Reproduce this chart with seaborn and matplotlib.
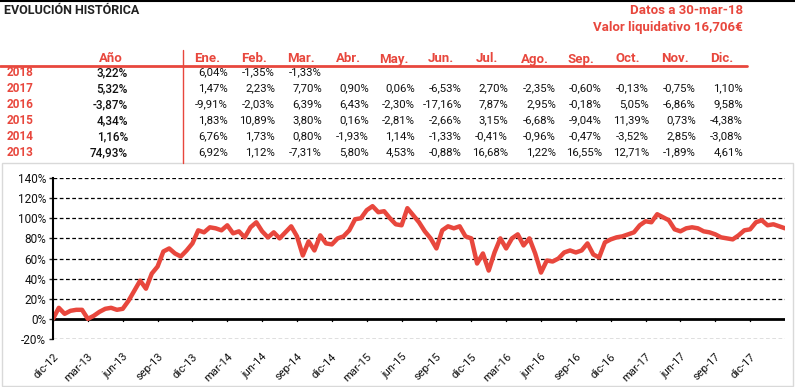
import numpy as np
import pandas as pd
import seaborn as sns
import matplotlib
matplotlib.use("Agg")
import matplotlib.pyplot as plt
from matplotlib.patches import Rectangle
from matplotlib.lines import Line2D

RED = "#E8473D"

# ---- table data ----
years = ["2018", "2017", "2016", "2015", "2014", "2013"]
year_returns = [3.22, 5.32, -3.87, 4.34, 1.16, 74.93]
month_names = ["Ene.", "Feb.", "Mar.", "Abr.", "May.", "Jun.",
               "Jul.", "Ago.", "Sep.", "Oct.", "Nov.", "Dic."]
ret_2018 = [6.04, -1.35, -1.33]
ret_2017 = [1.47, 2.23, 7.70, 0.90, 0.06, -6.53, 2.70, -2.35, -0.60, -0.13, -0.75, 1.10]
ret_2016 = [-9.91, -2.03, 6.39, 6.43, -2.30, -17.16, 7.87, 2.95, -0.18, 5.05, -6.86, 9.58]
ret_2015 = [1.83, 10.89, 3.80, 0.16, -2.81, -2.66, 3.15, -6.68, -9.04, 11.39, 0.73, -4.38]
ret_2014 = [6.76, 1.73, 0.80, -1.93, 1.14, -1.33, -0.41, -0.96, -0.47, -3.52, 2.85, -3.08]
ret_2013 = [6.92, 1.12, -7.31, 5.80, 4.53, -0.88, 16.68, 1.22, 16.55, 12.71, -1.89, 4.61]
monthly = [ret_2018, ret_2017, ret_2016, ret_2015, ret_2014, ret_2013]

# ---- chart data: cumulative return (%), twice a month from dic-12 ----
evo_2013 = [0, 11, 5, 8, 9, 9, 0, 3, 7, 10, 11, 9, 10, 18, 28, 38, 30, 45,
            52, 67, 70, 65, 62, 68, 75]
evo_2014 = [88, 86, 91, 90, 88, 93, 85, 87, 81, 91, 96, 87, 81, 86, 80, 86,
            92, 82, 63, 77, 68, 83, 75, 74]
evo_2015 = [80, 82, 88, 99, 100, 108, 112, 106, 107, 100, 94, 93, 110, 103,
            96, 87, 80, 70, 88, 92, 90, 92, 82, 80]
evo_2016 = [55, 65, 48, 66, 80, 70, 80, 84, 73, 80, 65, 46, 58, 57, 60, 66,
            68, 66, 68, 75, 64, 61, 76, 79]
evo_2017 = [81, 82, 84, 86, 93, 97, 96, 104, 101, 98, 89, 87, 90, 91, 90, 87,
            86, 84, 81, 80, 79, 83, 88, 89]
evo_2018 = [96, 98, 93, 94, 92, 90]
evolution = evo_2013 + evo_2014 + evo_2015 + evo_2016 + evo_2017 + evo_2018
months = np.arange(len(evolution)) / 2.0

x_tick_labels = ["dic-12", "mar-13", "jun-13", "sep-13", "dic-13", "mar-14",
                 "jun-14", "sep-14", "dic-14", "mar-15", "jun-15", "sep-15",
                 "dic-15", "mar-16", "jun-16", "sep-16", "dic-16", "mar-17",
                 "jun-17", "sep-17", "dic-17"]
y_ticks = [-20, 0, 20, 40, 60, 80, 100, 120, 140]

df = pd.DataFrame({"mes": months, "evolucion": evolution})


def fmt(v):
    return "{:.2f}%".format(v).replace(".", ",")


sns.set_theme(style="white")
plt.rcParams["font.family"] = ["Roboto", "DejaVu Sans"]

W, H = 795, 387
fig = plt.figure(figsize=(W / 100, H / 100), dpi=100)


def P(x, y):
    return x / W, 1 - y / H


# header area
fig.add_artist(Line2D([0, 1], [1 - 0.5 / H] * 2, color="black", lw=1.5))
fig.text(*P(4, 10), "EVOLUCIÓN HISTÓRICA", fontsize=9, fontweight="bold",
         color="#222222", va="center", ha="left")
fig.text(*P(743, 10), "Datos a 30-mar-18", fontsize=9.5, fontweight="bold",
         color=RED, va="center", ha="right")
fig.text(*P(743, 27), "Valor liquidativo 16,706€", fontsize=9.5, fontweight="bold",
         color=RED, va="center", ha="right")

# table
fig.text(*P(111, 59), "Año", fontsize=9.5, fontweight="bold", color=RED,
         va="center", ha="center")
col_right = [228, 275, 322, 369, 415, 462, 508, 556, 602, 649, 696, 743]
for name, xr in zip(month_names, col_right):
    fig.text(*P(xr - 21, 59), name, fontsize=9.5, fontweight="bold", color=RED,
             va="center", ha="center")
fig.add_artist(Line2D([0, 747 / W], [1 - 66 / H] * 2, color=RED, lw=2))
fig.add_artist(Line2D([183 / W] * 2, [1 - 50 / H, 1 - 163 / H], color=RED, lw=1))

row_y = [72.5, 88.5, 104.5, 120.5, 136.5, 152.5]
for yr, tot, vals, ry in zip(years, year_returns, monthly, row_y):
    fig.text(*P(7, ry), yr, fontsize=8.5, fontweight="bold", color=RED,
             va="center", ha="left")
    fig.text(*P(128, ry), fmt(tot), fontsize=8.5, fontweight="medium",
             color="#111111", va="center", ha="right")
    for v, xr in zip(vals, col_right):
        fig.text(*P(xr, ry), fmt(v), fontsize=8.2, color="#111111",
                 va="center", ha="right")

# chart frame
fig.add_artist(Rectangle(P(2, 386), 791 / W, 223 / H, fill=False,
                         edgecolor="#d9d9d9", lw=1))

ax = fig.add_axes([53 / W, 1 - 339 / H, (785 - 53) / W, (339 - 178) / H])
sns.lineplot(data=df, x="mes", y="evolucion", ax=ax, color=RED, lw=3.2)

ax.set_xlim(0, 63)
ax.set_ylim(-20, 140)
ax.set_yticks(y_ticks)
ax.set_yticklabels(["{}%".format(t) for t in y_ticks], fontsize=8.5, color="#111111")
ax.set_xticks(np.arange(len(x_tick_labels)) * 3)
ax.set_xticklabels(x_tick_labels, rotation=45, ha="right", rotation_mode="anchor",
                   fontsize=8, color="#111111")
ax.set_xlabel("")
ax.set_ylabel("")
for t in y_ticks:
    if t != 0:
        ax.axhline(t, color="black", lw=0.9, ls=(0, (3, 2)), zorder=0)
ax.axhline(0, color="black", lw=2, zorder=1)

ax.spines["top"].set_visible(False)
ax.spines["right"].set_visible(False)
ax.spines["bottom"].set_visible(False)
ax.spines["left"].set_color("black")
ax.spines["left"].set_linewidth(1.5)
ax.tick_params(axis="y", which="both", left=True, length=3, width=1, pad=2)
ax.tick_params(axis="x", which="both", bottom=False, pad=3)

# x ticks sitting on the zero line
for xt in ax.get_xticks():
    ax.plot([xt, xt], [0, -2.5], color="black", lw=1, clip_on=False, zorder=1)

fig.savefig("out.png", dpi=100)
